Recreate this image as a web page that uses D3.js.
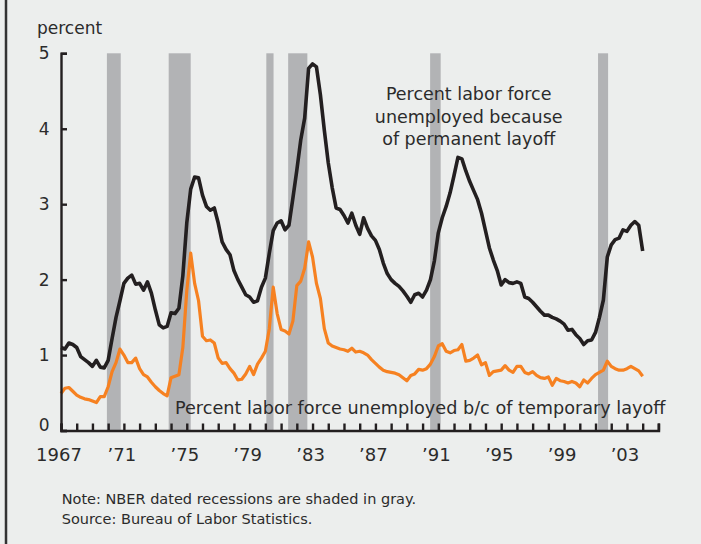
<!DOCTYPE html>
<html>
<head>
<meta charset="utf-8">
<script src="https://cdn.jsdelivr.net/npm/d3@7"></script>
<style>
  html, body { margin: 0; padding: 0; background: #eceeed; }
  svg { display: block; font-family: "DejaVu Sans", sans-serif; }
</style>
</head>
<body>
<main></main>
<script>
const width = 701;
const height = 544;

// quarterly readings, 1967 Q1 .. 2004 Q1 (percent of labor force)
const permanent = [
  1.10, 1.08, 1.16, 1.14,  1.10, 0.98, 0.94, 0.90,  0.85, 0.93, 0.84, 0.83,  // 67-69
  0.93, 1.22, 1.50, 1.72,  1.95, 2.02, 2.06, 1.94,  1.95, 1.86, 1.97, 1.82,  // 70-72
  1.60, 1.40, 1.36, 1.38,  1.56, 1.55, 1.62, 2.05,  2.75, 3.20, 3.36, 3.35,  // 73-75
  3.12, 2.97, 2.92, 2.95,  2.75, 2.50, 2.40, 2.33,  2.12, 2.00, 1.90, 1.80,  // 76-78
  1.77, 1.70, 1.72, 1.90,  2.02, 2.35, 2.65, 2.75,  2.78, 2.66, 2.72, 3.08,  // 79-81
  3.45, 3.85, 4.14, 4.80,  4.86, 4.82, 4.45, 3.98,  3.55, 3.22, 2.95, 2.93,  // 82-84
  2.85, 2.75, 2.88, 2.72,  2.60, 2.82, 2.68, 2.58,  2.52, 2.40, 2.22, 2.08,  // 85-87
  2.00, 1.95, 1.91, 1.85,  1.78, 1.70, 1.80, 1.82,  1.77, 1.86, 2.00, 2.25,  // 88-90
  2.62, 2.82, 2.97, 3.15,  3.38, 3.62, 3.60, 3.44,  3.30, 3.18, 3.06, 2.88,  // 91-93
  2.65, 2.42, 2.26, 2.12,  1.93, 2.00, 1.96, 1.95,  1.97, 1.95, 1.77, 1.75,  // 94-96
  1.70, 1.64, 1.58, 1.53,  1.53, 1.50, 1.48, 1.45,  1.41, 1.33, 1.34, 1.27,  // 97-99
  1.22, 1.14, 1.19, 1.20,  1.30, 1.50, 1.73, 2.30,  2.46, 2.53, 2.55, 2.66,  // 00-02
  2.64, 2.72, 2.77, 2.72,  2.38                                              // 03-04
];

const temporary = [
  0.49, 0.56, 0.57, 0.52,  0.47, 0.44, 0.42, 0.41,  0.39, 0.37, 0.45, 0.45,  // 67-69
  0.58, 0.78, 0.90, 1.08,  1.00, 0.90, 0.90, 0.96,  0.82, 0.74, 0.71, 0.64,  // 70-72
  0.58, 0.53, 0.49, 0.46,  0.70, 0.72, 0.74, 1.10,  1.85, 2.35, 1.95, 1.72,  // 73-75
  1.25, 1.19, 1.20, 1.16,  0.96, 0.89, 0.90, 0.82,  0.76, 0.67, 0.68, 0.75,  // 76-78
  0.85, 0.74, 0.88, 0.96,  1.05, 1.35, 1.90, 1.55,  1.34, 1.32, 1.28, 1.45,  // 79-81
  1.92, 1.98, 2.15, 2.50,  2.30, 1.95, 1.75, 1.35,  1.16, 1.12, 1.10, 1.08,  // 82-84
  1.07, 1.05, 1.09, 1.04,  1.05, 1.03, 1.00, 0.94,  0.89, 0.84, 0.80, 0.78,  // 85-87
  0.77, 0.76, 0.74, 0.70,  0.66, 0.73, 0.75, 0.81,  0.80, 0.82, 0.88, 0.98,  // 88-90
  1.12, 1.15, 1.05, 1.03,  1.06, 1.07, 1.14, 0.92,  0.93, 0.96, 1.00, 0.87,  // 91-93
  0.90, 0.73, 0.78, 0.79,  0.80, 0.86, 0.80, 0.77,  0.85, 0.85, 0.77, 0.75,  // 94-96
  0.78, 0.73, 0.70, 0.69,  0.71, 0.60, 0.69, 0.66,  0.65, 0.63, 0.65, 0.63,  // 97-99
  0.58, 0.67, 0.63, 0.69,  0.74, 0.77, 0.80, 0.92,  0.85, 0.82, 0.80, 0.80,  // 00-02
  0.82, 0.85, 0.82, 0.79,  0.72                                              // 03-04
];

// NBER recessions as decimal years
const recessionStart = [1969.92, 1973.85, 1980.06, 1981.45, 1990.48, 2001.16];
const recessionEnd   = [1970.80, 1975.25, 1980.52, 1982.67, 1991.15, 2001.80];

const yTicks = [0, 1, 2, 3, 4, 5];
const xTickYears = d3.range(1967, 2006);
const labelYears = [1967, 1971, 1975, 1979, 1983, 1987, 1991, 1995, 1999, 2003];

const ink = "#2b2b2b";

const svg = d3.select("main")
  .append("svg")
  .attr("width", width)
  .attr("height", height);

svg.append("rect")
  .attr("width", width)
  .attr("height", height)
  .attr("fill", "#eceeed");

// left frame edge
svg.append("line")
  .attr("x1", 6).attr("x2", 6)
  .attr("y1", 0).attr("y2", height)
  .attr("stroke", "#333")
  .attr("stroke-width", 2.5);

const x = d3.scaleLinear().domain([1967, 2005]).range([61, 658.4]);
const y = d3.scaleLinear().domain([0, 5]).range([430.5, 53.3]);

// recession shading
svg.append("g")
  .selectAll("rect")
  .data(recessionStart)
  .enter()
  .append("rect")
  .attr("x", (d) => x(d))
  .attr("width", (d, i) => x(recessionEnd[i]) - x(d))
  .attr("y", y(5))
  .attr("height", y(0) - y(5))
  .attr("fill", "#b2b3b5");

const toPoints = (arr) => arr.map((v, i) => ({ t: 1967 + i / 4, v: v }));

const line = d3.line()
  .x((d) => x(d.t))
  .y((d) => y(d.v));

svg.append("path")
  .datum(toPoints(temporary))
  .attr("d", line)
  .attr("fill", "none")
  .attr("stroke", "#f68121")
  .attr("stroke-width", 3.2)
  .attr("stroke-linejoin", "round");

svg.append("path")
  .datum(toPoints(permanent))
  .attr("d", line)
  .attr("fill", "none")
  .attr("stroke", "#231f20")
  .attr("stroke-width", 3.6)
  .attr("stroke-linejoin", "round");

// y axis, ticks pointing into the plot
const yAxis = svg.append("g")
  .attr("transform", "translate(" + x(1967) + ",0)")
  .call(d3.axisLeft(y).tickValues(yTicks).tickSize(-6).tickPadding(11.5).tickFormat(d3.format("d")));

yAxis.select(".domain").attr("stroke", "#231f20").attr("stroke-width", 2.4);
yAxis.selectAll(".tick line").attr("stroke", "#231f20").attr("stroke-width", 2.4);
yAxis.selectAll(".tick text")
  .attr("fill", ink)
  .style("font-size", "17px")
  .style("font-family", "DejaVu Sans")
  .attr("dy", (d) => d === 0 ? "0em" : "0.32em");

// x axis, yearly ticks pointing up
const fmtYear = (d) => {
  if (labelYears.indexOf(d) < 0) return "";
  return d === 1967 ? "1967" : "\u2019" + String(d).slice(2);
};

const xAxis = svg.append("g")
  .attr("transform", "translate(0," + y(0) + ")")
  .call(d3.axisBottom(x).tickValues(xTickYears).tickSize(-7).tickPadding(17.5).tickFormat(fmtYear));

xAxis.select(".domain").attr("stroke", "#231f20").attr("stroke-width", 2.6);
xAxis.selectAll(".tick line").attr("stroke", "#231f20").attr("stroke-width", 2.4);
xAxis.selectAll(".tick text")
  .attr("fill", ink)
  .attr("dx", -2.5)
  .style("font-size", "18px")
  .style("font-family", "DejaVu Sans");

// titles and notes
const addText = (txt, px, py, size, anchor) => svg.append("text")
  .attr("x", px)
  .attr("y", py)
  .attr("fill", ink)
  .style("font-size", size + "px")
  .style("text-anchor", anchor || "start")
  .text(txt);

addText("percent", 37, 33.5, 17);

addText("Percent labor force", 468.7, 100, 17.5, "middle");
addText("unemployed because", 468.7, 122.5, 17.5, "middle");
addText("of permanent layoff", 468.7, 145, 17.5, "middle");

addText("Percent labor force unemployed b/c of temporary layoff", 175, 414, 17.65);

addText("Note: NBER dated recessions are shaded in gray.", 61.7, 503.5, 14.5);
addText("Source: Bureau of Labor Statistics.", 61.7, 524, 14.5);
</script>
</body>
</html>
